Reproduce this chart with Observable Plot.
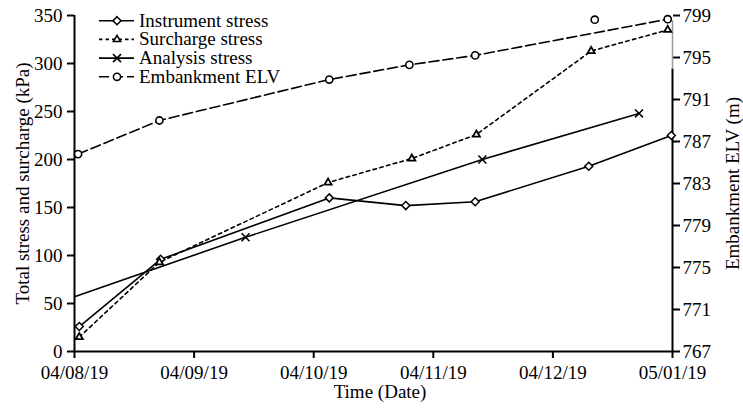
<!DOCTYPE html>
<html><head><meta charset="utf-8">
<script src="https://cdn.jsdelivr.net/npm/d3@7"></script>
<script src="https://cdn.jsdelivr.net/npm/@observablehq/plot@0.6"></script>
<style>html,body{margin:0;padding:0;background:#fff;}</style>
</head><body><div id="chart"></div>
<script>
// ---- data (x = months after 04/08/19, tick positions 0..5) ----
const dateLabels = ["04/08/19","04/09/19","04/10/19","04/11/19","04/12/19","05/01/19"];
const instrumentT   = [0.04, 0.72, 2.13, 2.77, 3.35, 4.30, 4.99];
const instrumentKPa = [26, 96, 160, 152, 156, 193, 225];
const surchargeT    = [0.04, 0.71, 2.12, 2.82, 3.36, 4.32, 4.96];
const surchargeKPa  = [15, 93, 176, 201, 226, 313, 335];
const analysisT     = [0, 1.43, 3.41, 4.72];
const analysisKPa   = [57, 119, 200, 248];
const analysisMarked = [false, true, true, true];
const embankT       = [0.03, 0.71, 2.13, 2.80, 3.35, 4.96];
const embankELV     = [785.8, 789.0, 792.9, 794.3, 795.2, 798.65];
const embankExtraT  = [4.35];
const embankExtraELV = [798.6];
const kpaTicks = [0, 50, 100, 150, 200, 250, 300, 350];
const elvTicks = [767, 771, 775, 779, 783, 787, 791, 795, 799];
const rightAxisGrayFrom = 793.9; // upper part of right axis drawn grey
const legendLabels = ["Instrument stress", "Surcharge stress", "Analysis stress", "Embankment ELV"];

const FONT = "'Liberation Serif','Times New Roman',serif";
const elvToKPa = d3.scaleLinear([767, 799], [0, 350]);

const idx = a => d3.range(a.length);
const LW = 1.6;

const legendMark = (index, scales, values, dims) => {
  const g = d3.create("svg:g").attr("font-family", FONT).attr("font-size", 19).attr("text-anchor", "start");
  const styles = [
    {sym: d3.symbolDiamond2, r: 3.6, dash: null},
    {sym: d3.symbolTriangle2, r: 3.4, dash: "3.5,3"},
    {sym: d3.symbolTimes, r: 3.7, dash: null},
    {sym: d3.symbolCircle, r: 3.6, dash: "10,4"}
  ];
  legendLabels.forEach((lab, i) => {
    const y = 20.7 + i * 18.7;
    const s = styles[i];
    g.append("line").attr("x1", 99).attr("x2", 134).attr("y1", y).attr("y2", y)
      .attr("stroke", "black").attr("stroke-width", LW)
      .attr("stroke-dasharray", s.dash);
    g.append("path").attr("d", d3.symbol(s.sym, s.r * s.r * Math.PI)())
      .attr("transform", `translate(117,${y})`)
      .attr("fill", s.sym === d3.symbolTimes ? "none" : "white")
      .attr("stroke", "black").attr("stroke-width", 1.6);
    g.append("text").attr("x", 139).attr("y", y).attr("dy", "0.32em").attr("text-anchor", "start").text(lab);
  });
  return g.node();
};

const chart = Plot.plot({
  width: 743, height: 412,
  marginLeft: 74, marginRight: 71, marginTop: 15, marginBottom: 61,
  style: {fontFamily: FONT, fontSize: "19px", color: "black", background: "white", overflow: "visible"},
  x: {domain: [0, 5]},
  y: {domain: [0, 350]},
  marks: [
    Plot.axisY(kpaTicks, {anchor: "left", tickSize: 7, tickPadding: 5, strokeWidth: 2, label: null}),
    Plot.axisY(elvTicks.map(elvToKPa), {anchor: "right", tickSize: 7, tickPadding: 3, strokeWidth: 2, label: null,
      tickFormat: d => String(Math.round(elvToKPa.invert(d)))}),
    Plot.axisX(d3.range(dateLabels.length), {anchor: "bottom", tickSize: 7, tickPadding: 7, strokeWidth: 2, label: null,
      tickFormat: i => dateLabels[i]}),
    Plot.ruleX([0], {y1: 0, y2: 350, strokeWidth: 2}),
    Plot.ruleX([5], {y1: 0, y2: elvToKPa(rightAxisGrayFrom), strokeWidth: 2}),
    Plot.ruleX([5], {y1: elvToKPa(rightAxisGrayFrom), y2: elvToKPa(798.5), strokeWidth: 1.5, stroke: "#999"}),
    Plot.ruleY([0], {x1: 0, x2: 5, strokeWidth: 2}),
    // series
    Plot.line(idx(embankT), {x: i => embankT[i], y: i => elvToKPa(embankELV[i]), stroke: "black", strokeWidth: LW, strokeDasharray: "10,4"}),
    Plot.line(idx(surchargeT), {x: i => surchargeT[i], y: i => surchargeKPa[i], stroke: "black", strokeWidth: LW, strokeDasharray: "3.5,3.5"}),
    Plot.line(idx(analysisT), {x: i => analysisT[i], y: i => analysisKPa[i], stroke: "black", strokeWidth: LW}),
    Plot.line(idx(instrumentT), {x: i => instrumentT[i], y: i => instrumentKPa[i], stroke: "black", strokeWidth: LW}),
    Plot.dot(idx(embankT), {x: i => embankT[i], y: i => elvToKPa(embankELV[i]), symbol: "circle", r: 3.6, fill: "white", stroke: "black", strokeWidth: 1.6}),
    Plot.dot(idx(embankExtraT), {x: i => embankExtraT[i], y: i => elvToKPa(embankExtraELV[i]), symbol: "circle", r: 3.6, fill: "white", stroke: "black", strokeWidth: 1.6}),
    Plot.dot(idx(instrumentT), {x: i => instrumentT[i], y: i => instrumentKPa[i], symbol: "diamond2", r: 3.6, fill: "white", stroke: "black", strokeWidth: 1.5}),
    Plot.dot(idx(surchargeT), {x: i => surchargeT[i], y: i => surchargeKPa[i], symbol: "triangle2", r: 3.4, fill: "white", stroke: "black", strokeWidth: 1.8}),
    Plot.dot(idx(analysisT).filter(i => analysisMarked[i]), {x: i => analysisT[i], y: i => analysisKPa[i], symbol: "times", r: 3.7, stroke: "black", strokeWidth: 1.6}),
    // axis titles
    Plot.text(["Total stress and surcharge (kPa)"], {frameAnchor: "left", rotate: -90, dx: -46, lineAnchor: "bottom", textAnchor: "middle", fontSize: 19}),
    Plot.text(["Embankment ELV (m)"], {frameAnchor: "right", rotate: -90, dx: 66, lineAnchor: "bottom", textAnchor: "middle", fontSize: 19}),
    Plot.text(["Time (Date)"], {frameAnchor: "bottom", dx: 6.5, dy: 46, lineAnchor: "bottom", textAnchor: "middle", fontSize: 19}),
    legendMark
  ]
});
document.getElementById("chart").append(chart);
</script>
</body></html>
